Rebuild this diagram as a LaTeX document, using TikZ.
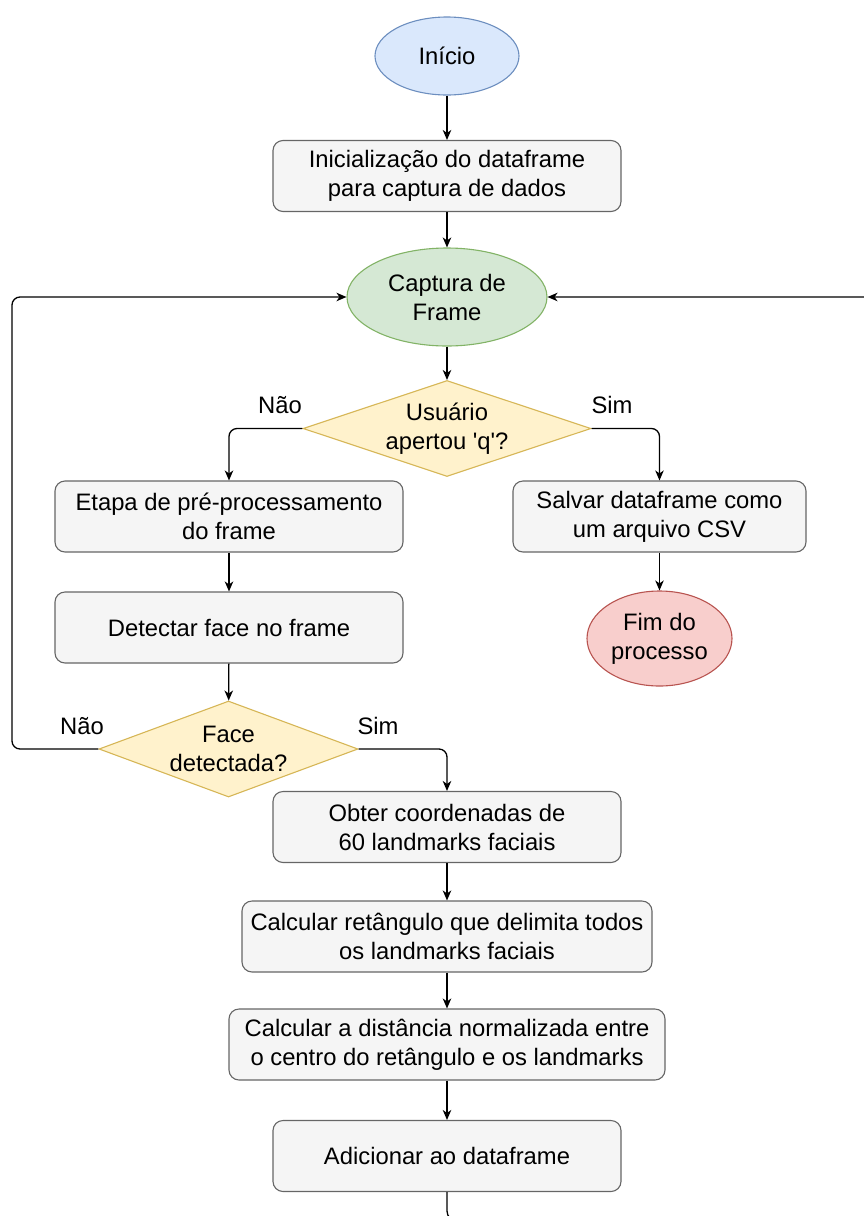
\documentclass[tikz,border=0pt]{standalone}
\usepackage{fontspec}
\setmainfont{Liberation Sans}[Ligatures=TeXOff]
\usetikzlibrary{shapes.geometric,arrows.meta}

\definecolor{blueF}{HTML}{DAE8FC}\definecolor{blueS}{HTML}{6C8EBF}
\definecolor{greenF}{HTML}{D5E8D4}\definecolor{greenS}{HTML}{82B366}
\definecolor{yellowF}{HTML}{FFF2CC}\definecolor{yellowS}{HTML}{D6B656}
\definecolor{grayF}{HTML}{F5F5F5}\definecolor{grayS}{HTML}{666666}
\definecolor{redF}{HTML}{F8CECC}\definecolor{redS}{HTML}{B85450}

\tikzset{
  txt/.style={font=\fontsize{23.8}{29}\selectfont, align=center, text=black},
  procbox/.style={txt, draw=grayS, fill=grayF, line width=1.1pt, rounded corners=10pt,
                  inner sep=0pt, minimum height=71pt},
  oval/.style={txt, ellipse, line width=1.1pt, inner sep=0pt},
  decision/.style={diamond, line width=1.1pt, draw=yellowS, fill=yellowF, inner sep=0pt,
                   minimum width=288pt, minimum height=96pt},
  arr/.style={line width=1.3pt, -{Stealth[length=10pt,width=8.5pt,inset=3pt]}},
  lbl/.style={txt}
}

\begin{document}
\begin{tikzpicture}[x=1pt,y=-1pt]
\useasboundingbox (0,0) rectangle (864,1216);
\clip (0,0) rectangle (864,1216);

% start / end ovals
\node[oval, draw=blueS, fill=blueF, minimum width=144pt, minimum height=78pt] (inicio) at (447,56) {Início};
\node[oval, draw=greenS, fill=greenF, minimum width=200pt, minimum height=98pt] (captura) at (447,297) {Captura de\\Frame};
\node[oval, draw=redS, fill=redF, minimum width=145pt, minimum height=95pt] (fim) at (659.5,638.5) {Fim do\\processo};

% process steps
\node[procbox, minimum width=348pt] (init) at (447,176) {Inicialização do dataframe\\para captura de dados};
\node[procbox, minimum width=348pt] (etapa) at (229,516.5) {Etapa de pré-processamento\\do frame};
\node[procbox, minimum width=293pt] (salvar) at (659.5,516.5) {Salvar dataframe como\\um arquivo CSV};
\node[procbox, minimum width=348pt] (detectar) at (229,627.5) {Detectar face no frame};
\node[procbox, minimum width=348pt] (obter) at (447,827) {Obter coordenadas de\\ 60 landmarks faciais};
\node[procbox, minimum width=410pt] (retang) at (447,936.5) {Calcular retângulo que delimita todos\\os landmarks faciais};
\node[procbox, minimum width=436pt] (dist) at (447,1044.5) {Calcular a distância normalizada entre\\o centro do retângulo e os landmarks};
\node[procbox, minimum width=348pt] (adic) at (447,1156) {Adicionar ao dataframe};

% decisions
\node[decision] (tecla) at (447,428.5) {};
\node[txt] (teclaT) at (tecla) {Usuário\\apertou 'q'?};
\node[decision, minimum width=259pt] (face) at (228.5,749) {};
\node[txt] (faceT) at (face) {Face\\detectada?};

% branch labels
\node[lbl] (naoA) at (280,405) {Não};
\node[lbl] (simA) at (612,405) {Sim};
\node[lbl] (naoB) at (82,726) {Não};
\node[lbl] (simB) at (378,726) {Sim};

% loop waypoints
\coordinate (leftRail) at (12,520);
\coordinate (bottomRail) at (447,1221);
\coordinate (rightRail) at (876,1221);

% connectors
\draw[arr] (inicio) -- (init);
\draw[arr] (init) -- (captura);
\draw[arr] (captura) -- (tecla);
\draw[arr, rounded corners=8pt] (tecla.west) -| (etapa.north);
\draw[arr, rounded corners=8pt] (tecla.east) -| (salvar.north);
\draw[arr] (salvar) -- (fim);
\draw[arr] (etapa) -- (detectar);
\draw[arr] (detectar) -- (face);
\draw[arr, rounded corners=8pt] (face.west) -| (leftRail) |- (captura.west);
\draw[arr, rounded corners=8pt] (face.east) -| (obter.north);
\draw[arr] (obter) -- (retang);
\draw[arr] (retang) -- (dist);
\draw[arr] (dist) -- (adic);
\draw[arr, rounded corners=10pt] (adic.south) -- (bottomRail) -- (rightRail) |- (captura.east);
\end{tikzpicture}
\end{document}
